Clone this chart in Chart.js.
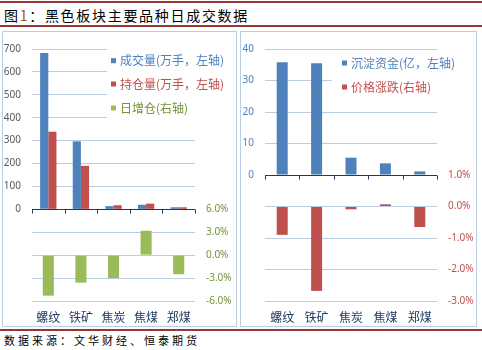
<!DOCTYPE html>
<html>
<head>
<meta charset="utf-8">
<script src="https://cdn.jsdelivr.net/npm/chart.js@4.4.0/dist/chart.umd.min.js"></script>
<style>
body { margin: 0; width: 482px; height: 350px; background: #fff; position: relative; overflow: hidden; font-family: 'Noto Sans CJK SC', sans-serif; }
.rule { position: absolute; left: 0; width: 482px; height: 2px; background: #953735; }
#title { position: absolute; left: 4px; top: 5px; font-size: 14px; line-height: 20px; letter-spacing: 1.7px; color: #000; white-space: nowrap; }
#title span { color: #9C5B12; }
.panel { position: absolute; top: 31px; height: 296px; border: 1px solid #B9CDE5; box-sizing: border-box; }
.panel canvas { display: block; }
#source { position: absolute; left: 4px; top: 332px; font-size: 11px; line-height: 16px; letter-spacing: 3px; color: #000; white-space: nowrap; }
</style>
</head>
<body>
<div class="rule" style="top:1px"></div>
<div id="title">图<span>1</span>：黑色板块主要品种日成交数据</div>
<div class="rule" style="top:25px"></div>
<div class="panel" style="left:2px;width:235px"><canvas id="leftChart" width="233" height="294"></canvas></div>
<div class="panel" style="left:240px;width:237px"><canvas id="rightChart" width="235" height="294"></canvas></div>
<div class="rule" style="top:329px"></div>
<div id="source">数据来源：文华财经、恒泰期货</div>

<script>
// --- Data ---
const categories = ['螺纹', '铁矿', '焦炭', '焦煤', '郑煤'];
const volume = [683, 297, 14, 20, 9];          // 成交量 (万手)
const openInterest = [339, 190, 18, 25, 9];    // 持仓量 (万手)
const oiChange = [-5.3, -3.6, -3.0, 3.2, -2.5]; // 日增仓 (%)
const funds = [35.8, 35.5, 5.5, 3.7, 1.15];    // 沉淀资金 (亿)
const priceChange = [-0.9, -2.68, -0.09, 0.07, -0.65]; // 价格涨跌 (%)

// --- Style ---
const BLUE = '#4F81BD', RED = '#C0504D', GREEN = '#9BBB59', OLIVE = '#77933C';
const GRID = '#B9CDE5', NAVY = '#1F3864';
const NUM_FONT = { family: "'Noto Sans', sans-serif", size: 10 };
const CJK = "'Noto Sans CJK SC', sans-serif";

Chart.defaults.font.family = CJK;
Chart.defaults.animation = false;

// legend box + zero axis with tick marks
const overlay = {
    id: 'overlay',
    beforeDatasetsDraw(chart, args, opts) {
        const ctx = chart.ctx;
        const b = opts.box;
        ctx.save();
        ctx.fillStyle = '#fff';
        ctx.fillRect(b[0], b[1], b[2], b[3]);
        ctx.font = '12px ' + CJK;
        ctx.textBaseline = 'middle';
        chart.data.datasets.forEach((ds, i) => {
            const y = opts.rows[i];
            ctx.fillStyle = ds.backgroundColor;
            ctx.fillRect(opts.squareX, y - 2.5, 5, 5);
            ctx.fillStyle = opts.textColors[i];
            ctx.fillText(ds.label, opts.textX, y);
        });
        ctx.restore();
    },
    afterDatasetsDraw(chart) {
        const ctx = chart.ctx;
        const area = chart.chartArea;
        const y0 = Math.round(chart.scales.y.getPixelForValue(0)) + 0.5;
        const n = categories.length;
        ctx.save();
        ctx.strokeStyle = NAVY;
        ctx.lineWidth = 1;
        ctx.beginPath();
        ctx.moveTo(area.left, y0);
        ctx.lineTo(area.right, y0);
        for (let i = 0; i <= n; i++) {
            const x = Math.round(area.left + i * (area.right - area.left) / n) + 0.5;
            ctx.moveTo(x, y0);
            ctx.lineTo(x, y0 + 4);
        }
        ctx.stroke();
        ctx.restore();
    }
};

function gridColor(c) {
    return c.tick.value === 0 ? 'rgba(0,0,0,0)' : GRID;
}

function baseOptions(leftW, rightW) {
    return {
        responsive: false,
        layout: { padding: { top: 13 } },
        plugins: { legend: { display: false }, tooltip: { enabled: false } },
        scales: {
            x: {
                grid: { display: false },
                border: { display: false },
                ticks: { color: NAVY, font: { family: CJK, size: 12 }, padding: 1 },
                afterFit: s => { s.height = 25; }
            },
            y: {
                position: 'left',
                grid: { color: gridColor, drawTicks: false },
                border: { display: false },
                ticks: { font: NUM_FONT, padding: 11 },
                afterFit: s => { s.width = leftW; }
            },
            y1: {
                position: 'right',
                grid: { drawOnChartArea: false, drawTicks: false },
                border: { display: false },
                ticks: { font: NUM_FONT, padding: 11 },
                afterFit: s => { s.width = rightW; }
            }
        }
    };
}

// --- Left chart ---
const leftOpts = baseOptions(29, 41);
Object.assign(leftOpts.scales.y, { min: -400, max: 700 });
leftOpts.scales.y.ticks = Object.assign(leftOpts.scales.y.ticks, {
    stepSize: 100, color: '#595959',
    callback: v => v >= 0 ? v : ''
});
Object.assign(leftOpts.scales.y1, { min: -6, max: 27 });
leftOpts.scales.y1.ticks = Object.assign(leftOpts.scales.y1.ticks, {
    stepSize: 3, color: OLIVE,
    callback: v => v <= 6 ? v.toFixed(1) + '%' : ''
});
leftOpts.plugins.overlay = {
    box: [104, 16, 100, 73],
    squareX: 108, textX: 117,
    rows: [28.7, 52, 76],
    textColors: [BLUE, RED, OLIVE]
};

new Chart(document.getElementById('leftChart'), {
    type: 'bar',
    data: {
        labels: categories,
        datasets: [
            { label: '成交量(万手，左轴)', data: volume, backgroundColor: BLUE, yAxisID: 'y',
              categoryPercentage: 0.5, barPercentage: 1 },
            { label: '持仓量(万手，左轴)', data: openInterest, backgroundColor: RED, yAxisID: 'y',
              categoryPercentage: 0.5, barPercentage: 1 },
            { label: '日增仓(右轴)', data: oiChange, backgroundColor: GREEN, yAxisID: 'y1',
              grouped: false, categoryPercentage: 0.34, barPercentage: 1 }
        ]
    },
    options: leftOpts,
    plugins: [overlay]
});

// --- Right chart ---
const rightOpts = baseOptions(24, 39);
Object.assign(rightOpts.scales.y, { min: -40, max: 40 });
rightOpts.scales.y.ticks = Object.assign(rightOpts.scales.y.ticks, {
    stepSize: 10, color: BLUE,
    callback: v => v >= 0 ? v : ''
});
Object.assign(rightOpts.scales.y1, { min: -3, max: 5 });
rightOpts.scales.y1.ticks = Object.assign(rightOpts.scales.y1.ticks, {
    stepSize: 1, color: RED,
    callback: v => v <= 1 ? v.toFixed(1) + '%' : ''
});
rightOpts.plugins.overlay = {
    box: [91, 18, 110, 50],
    squareX: 101, textX: 110,
    rows: [31, 55],
    textColors: [BLUE, RED]
};

new Chart(document.getElementById('rightChart'), {
    type: 'bar',
    data: {
        labels: categories,
        datasets: [
            { label: '沉淀资金(亿，左轴)', data: funds, backgroundColor: BLUE, yAxisID: 'y',
              grouped: false, categoryPercentage: 0.32, barPercentage: 1 },
            { label: '价格涨跌(右轴)', data: priceChange, backgroundColor: RED, yAxisID: 'y1',
              grouped: false, categoryPercentage: 0.32, barPercentage: 1 }
        ]
    },
    options: rightOpts,
    plugins: [overlay]
});
</script>
</body>
</html>
